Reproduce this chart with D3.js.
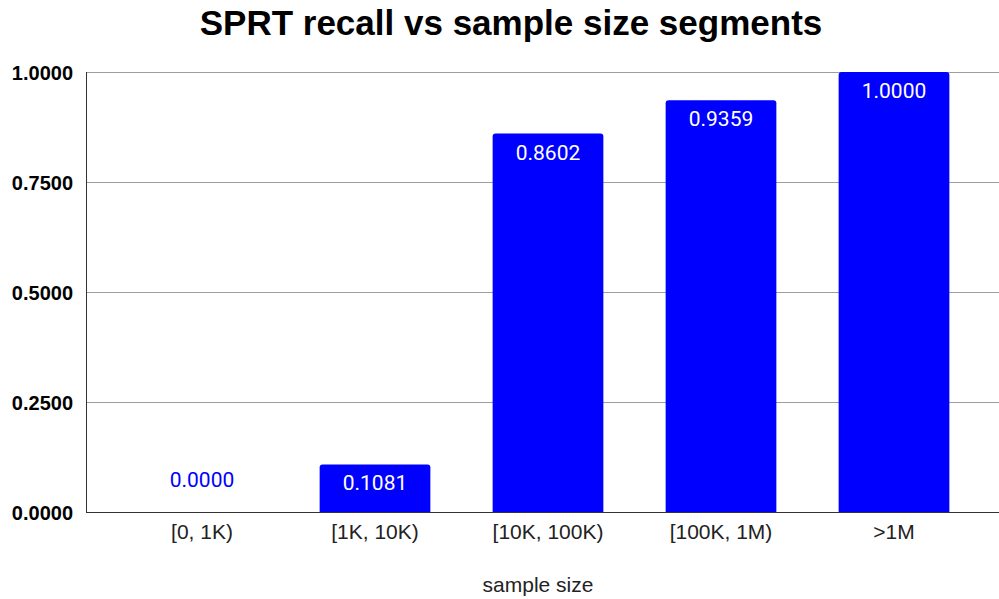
<!DOCTYPE html>
<html><head><meta charset="utf-8">
<script src="https://cdn.jsdelivr.net/npm/d3@7"></script>
<style>body{margin:0;background:#fff}svg{display:block}</style>
</head><body>
<script>
const categories = ["[0, 1K)", "[1K, 10K)", "[10K, 100K)", "[100K, 1M)", ">1M"];
const recall = [0.0000, 0.1081, 0.8602, 0.9359, 1.0000];
const yTicks = [0, 0.25, 0.5, 0.75, 1.0];
const title = "SPRT recall vs sample size segments";
const xTitle = "sample size";

const W = 999, H = 599;
const svg = d3.select("body").append("svg").attr("width", W).attr("height", H);
const plotL = 87, plotR = 999, plotT = 72, plotB = 512;

const x = d3.scaleBand().domain(categories).range([115.5, 980.5]).paddingInner(0.36).paddingOuter(0.18);
const y = d3.scaleLinear().domain([0, 1]).range([plotB, plotT]);

svg.append("text").attr("x", 511).attr("y", 35).attr("text-anchor", "middle")
  .attr("font-family", "Liberation Sans, Arial, sans-serif").attr("font-weight", "bold")
  .attr("font-size", 35).text(title);

// grid
const yAxis = d3.axisLeft(y).tickValues(yTicks).tickSize(-(plotR - plotL)).tickFormat(d3.format(".4f"));
const gy = svg.append("g").attr("transform", `translate(${plotL},0)`).call(yAxis);
gy.select(".domain").remove();
gy.selectAll(".tick line").attr("stroke", "#9e9e9e").attr("stroke-width", 1);
gy.selectAll(".tick text").attr("x", -14).attr("dy", "0.36em").attr("font-family", "Liberation Sans, Arial, sans-serif")
  .attr("font-weight", "bold").attr("font-size", 20).attr("fill", "#000");

// bars
svg.append("g").selectAll("path").data(recall).join("path")
  .attr("fill", "#0000ff")
  .attr("d", (d, i) => {
    const x0 = x(categories[i]), w = x.bandwidth(), y0 = y(d), h = plotB - y0, r = Math.min(3, h);
    if (h <= 0) return "";
    return `M${x0},${plotB}V${y0 + r}Q${x0},${y0} ${x0 + r},${y0}H${x0 + w - r}Q${x0 + w},${y0} ${x0 + w},${y0 + r}V${plotB}Z`;
  });

// baseline and left axis
svg.append("line").attr("x1", plotL).attr("x2", plotR).attr("y1", plotB + 0.5).attr("y2", plotB + 0.5).attr("stroke", "#333");
svg.append("line").attr("x1", plotL - 0.5).attr("x2", plotL - 0.5).attr("y1", plotT).attr("y2", plotB + 1).attr("stroke", "#333");

// value labels
svg.append("g").selectAll("text").data(recall).join("text")
  .attr("x", (d, i) => x(categories[i]) + x.bandwidth() / 2)
  .attr("y", d => d === 0 ? y(d) - 25 : y(d) + 26)
  .attr("text-anchor", "middle")
  .attr("font-family", "Roboto, sans-serif").attr("font-size", 21)
  .attr("fill", d => d === 0 ? "#0000ff" : "#fff")
  .text(d => d3.format(".4f")(d));

// x labels
const gx = svg.append("g").attr("transform", `translate(0,${plotB})`).call(d3.axisBottom(x).tickSize(0));
gx.select(".domain").remove();
gx.selectAll(".tick text").attr("dy", 0).attr("y", 27).attr("font-family", "Liberation Sans, Arial, sans-serif")
  .attr("font-size", 21).attr("fill", "#222");

svg.append("text").attr("x", 538).attr("y", 592).attr("text-anchor", "middle")
  .attr("font-family", "Liberation Sans, Arial, sans-serif").attr("font-size", 21).attr("fill", "#222").text(xTitle);
</script>
</body></html>
